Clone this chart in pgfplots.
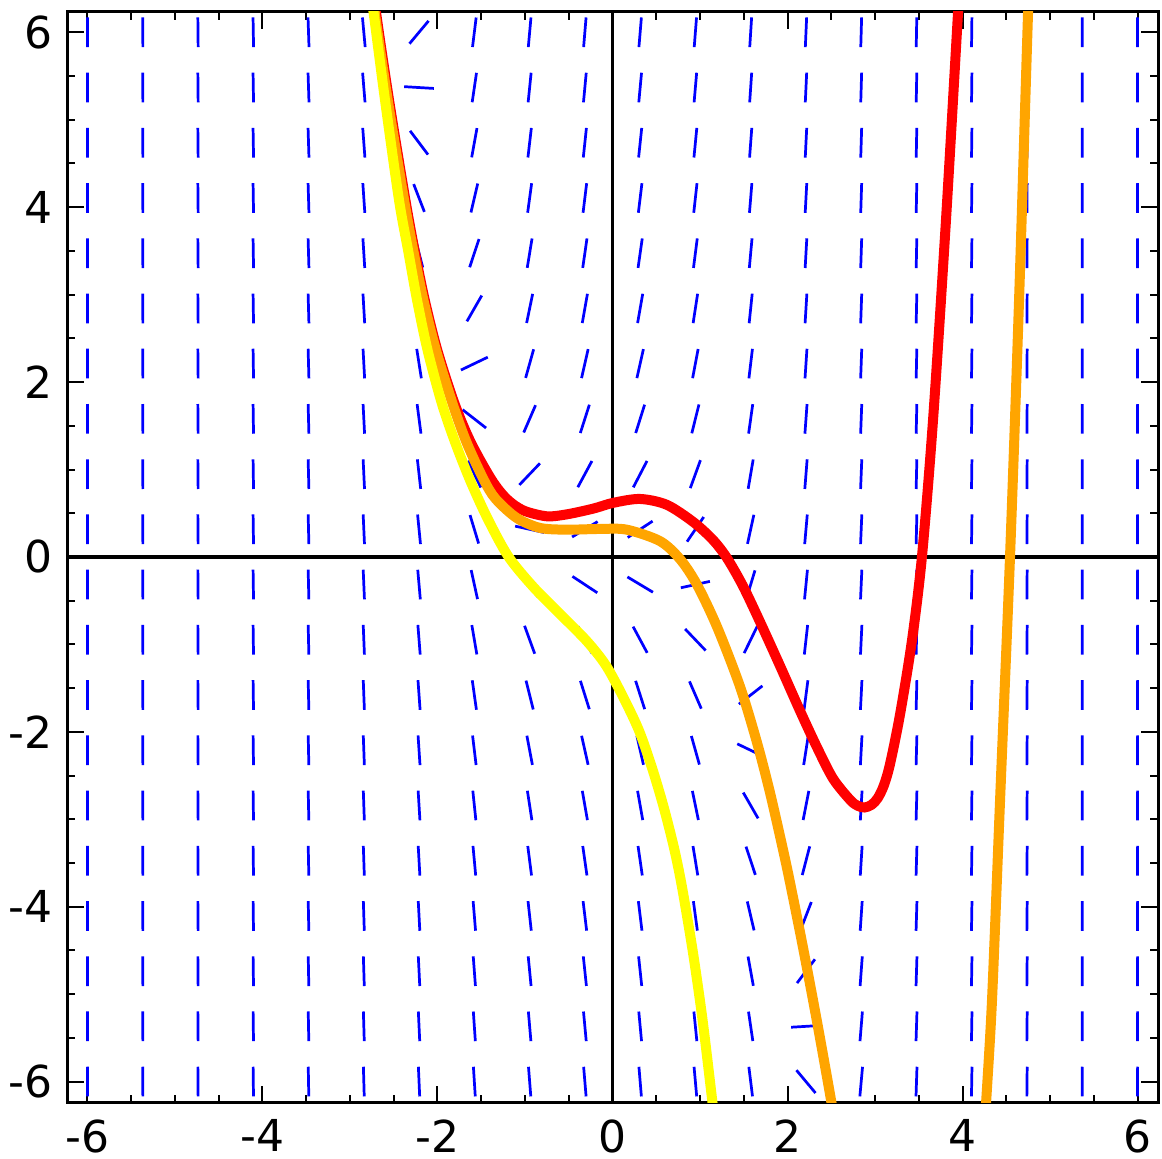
\documentclass[border=0pt]{standalone}
\usepackage{fontspec}
\setmainfont{DejaVu Sans}
\usepackage{pgfplots}
\pgfplotsset{compat=1.18}
\usepackage{pgfplotstable}
\definecolor{sblue}{RGB}{0,0,255}
\definecolor{sred}{RGB}{255,0,0}
\definecolor{sorange}{RGB}{255,165,0}
\definecolor{syellow}{RGB}{255,255,0}

\pgfplotstableread{
x y s
-6 -6 -228
-6 -5.368 -226.74
-6 -4.737 -225.47
-6 -4.105 -224.21
-6 -3.474 -222.95
-6 -2.842 -221.68
-6 -2.211 -220.42
-6 -1.579 -219.16
-6 -0.947 -217.89
-6 -0.316 -216.63
-6 0.316 -215.37
-6 0.947 -214.11
-6 1.579 -212.84
-6 2.211 -211.58
-6 2.842 -210.32
-6 3.474 -209.05
-6 4.105 -207.79
-6 4.737 -206.53
-6 5.368 -205.26
-6 6 -204
-5.368 -6 -166.72
-5.368 -5.368 -165.46
-5.368 -4.737 -164.19
-5.368 -4.105 -162.93
-5.368 -3.474 -161.67
-5.368 -2.842 -160.40
-5.368 -2.211 -159.14
-5.368 -1.579 -157.88
-5.368 -0.947 -156.61
-5.368 -0.316 -155.35
-5.368 0.316 -154.09
-5.368 0.947 -152.82
-5.368 1.579 -151.56
-5.368 2.211 -150.30
-5.368 2.842 -149.04
-5.368 3.474 -147.77
-5.368 4.105 -146.51
-5.368 4.737 -145.25
-5.368 5.368 -143.98
-5.368 6 -142.72
-4.737 -6 -118.28
-4.737 -5.368 -117.02
-4.737 -4.737 -115.75
-4.737 -4.105 -114.49
-4.737 -3.474 -113.23
-4.737 -2.842 -111.96
-4.737 -2.211 -110.70
-4.737 -1.579 -109.44
-4.737 -0.947 -108.18
-4.737 -0.316 -106.91
-4.737 0.316 -105.65
-4.737 0.947 -104.39
-4.737 1.579 -103.12
-4.737 2.211 -101.86
-4.737 2.842 -100.60
-4.737 3.474 -99.33
-4.737 4.105 -98.07
-4.737 4.737 -96.81
-4.737 5.368 -95.54
-4.737 6 -94.28
-4.105 -6 -81.19
-4.105 -5.368 -79.93
-4.105 -4.737 -78.66
-4.105 -4.105 -77.40
-4.105 -3.474 -76.14
-4.105 -2.842 -74.87
-4.105 -2.211 -73.61
-4.105 -1.579 -72.35
-4.105 -0.947 -71.09
-4.105 -0.316 -69.82
-4.105 0.316 -68.56
-4.105 0.947 -67.30
-4.105 1.579 -66.03
-4.105 2.211 -64.77
-4.105 2.842 -63.51
-4.105 3.474 -62.24
-4.105 4.105 -60.98
-4.105 4.737 -59.72
-4.105 5.368 -58.45
-4.105 6 -57.19
-3.474 -6 -53.92
-3.474 -5.368 -52.66
-3.474 -4.737 -51.39
-3.474 -4.105 -50.13
-3.474 -3.474 -48.87
-3.474 -2.842 -47.60
-3.474 -2.211 -46.34
-3.474 -1.579 -45.08
-3.474 -0.947 -43.82
-3.474 -0.316 -42.55
-3.474 0.316 -41.29
-3.474 0.947 -40.03
-3.474 1.579 -38.76
-3.474 2.211 -37.50
-3.474 2.842 -36.24
-3.474 3.474 -34.97
-3.474 4.105 -33.71
-3.474 4.737 -32.45
-3.474 5.368 -31.18
-3.474 6 -29.92
-2.842 -6 -34.96
-2.842 -5.368 -33.70
-2.842 -4.737 -32.43
-2.842 -4.105 -31.17
-2.842 -3.474 -29.91
-2.842 -2.842 -28.64
-2.842 -2.211 -27.38
-2.842 -1.579 -26.12
-2.842 -0.947 -24.86
-2.842 -0.316 -23.59
-2.842 0.316 -22.33
-2.842 0.947 -21.07
-2.842 1.579 -19.80
-2.842 2.211 -18.54
-2.842 2.842 -17.28
-2.842 3.474 -16.01
-2.842 4.105 -14.75
-2.842 4.737 -13.49
-2.842 5.368 -12.22
-2.842 6 -10.96
-2.211 -6 -22.80
-2.211 -5.368 -21.54
-2.211 -4.737 -20.27
-2.211 -4.105 -19.01
-2.211 -3.474 -17.75
-2.211 -2.842 -16.48
-2.211 -2.211 -15.22
-2.211 -1.579 -13.96
-2.211 -0.947 -12.70
-2.211 -0.316 -11.43
-2.211 0.316 -10.17
-2.211 0.947 -8.91
-2.211 1.579 -7.64
-2.211 2.211 -6.38
-2.211 2.842 -5.12
-2.211 3.474 -3.85
-2.211 4.105 -2.59
-2.211 4.737 -1.33
-2.211 5.368 -0.06
-2.211 6 1.20
-1.579 -6 -15.94
-1.579 -5.368 -14.68
-1.579 -4.737 -13.41
-1.579 -4.105 -12.15
-1.579 -3.474 -10.89
-1.579 -2.842 -9.62
-1.579 -2.211 -8.36
-1.579 -1.579 -7.10
-1.579 -0.947 -5.83
-1.579 -0.316 -4.57
-1.579 0.316 -3.31
-1.579 0.947 -2.05
-1.579 1.579 -0.78
-1.579 2.211 0.48
-1.579 2.842 1.74
-1.579 3.474 3.01
-1.579 4.105 4.27
-1.579 4.737 5.53
-1.579 5.368 6.80
-1.579 6 8.06
-0.947 -6 -12.85
-0.947 -5.368 -11.59
-0.947 -4.737 -10.32
-0.947 -4.105 -9.06
-0.947 -3.474 -7.80
-0.947 -2.842 -6.53
-0.947 -2.211 -5.27
-0.947 -1.579 -4.01
-0.947 -0.947 -2.75
-0.947 -0.316 -1.48
-0.947 0.316 -0.22
-0.947 0.947 1.05
-0.947 1.579 2.31
-0.947 2.211 3.57
-0.947 2.842 4.83
-0.947 3.474 6.10
-0.947 4.105 7.36
-0.947 4.737 8.62
-0.947 5.368 9.89
-0.947 6 11.15
-0.316 -6 -12.03
-0.316 -5.368 -10.77
-0.316 -4.737 -9.50
-0.316 -4.105 -8.24
-0.316 -3.474 -6.98
-0.316 -2.842 -5.71
-0.316 -2.211 -4.45
-0.316 -1.579 -3.19
-0.316 -0.947 -1.93
-0.316 -0.316 -0.66
-0.316 0.316 0.60
-0.316 0.947 1.86
-0.316 1.579 3.13
-0.316 2.211 4.39
-0.316 2.842 5.65
-0.316 3.474 6.92
-0.316 4.105 8.18
-0.316 4.737 9.44
-0.316 5.368 10.71
-0.316 6 11.97
0.316 -6 -11.97
0.316 -5.368 -10.71
0.316 -4.737 -9.44
0.316 -4.105 -8.18
0.316 -3.474 -6.92
0.316 -2.842 -5.65
0.316 -2.211 -4.39
0.316 -1.579 -3.13
0.316 -0.947 -1.86
0.316 -0.316 -0.60
0.316 0.316 0.66
0.316 0.947 1.93
0.316 1.579 3.19
0.316 2.211 4.45
0.316 2.842 5.71
0.316 3.474 6.98
0.316 4.105 8.24
0.316 4.737 9.50
0.316 5.368 10.77
0.316 6 12.03
0.947 -6 -11.15
0.947 -5.368 -9.89
0.947 -4.737 -8.62
0.947 -4.105 -7.36
0.947 -3.474 -6.10
0.947 -2.842 -4.83
0.947 -2.211 -3.57
0.947 -1.579 -2.31
0.947 -0.947 -1.05
0.947 -0.316 0.22
0.947 0.316 1.48
0.947 0.947 2.75
0.947 1.579 4.01
0.947 2.211 5.27
0.947 2.842 6.53
0.947 3.474 7.80
0.947 4.105 9.06
0.947 4.737 10.32
0.947 5.368 11.59
0.947 6 12.85
1.579 -6 -8.06
1.579 -5.368 -6.80
1.579 -4.737 -5.53
1.579 -4.105 -4.27
1.579 -3.474 -3.01
1.579 -2.842 -1.74
1.579 -2.211 -0.48
1.579 -1.579 0.78
1.579 -0.947 2.05
1.579 -0.316 3.31
1.579 0.316 4.57
1.579 0.947 5.83
1.579 1.579 7.10
1.579 2.211 8.36
1.579 2.842 9.62
1.579 3.474 10.89
1.579 4.105 12.15
1.579 4.737 13.41
1.579 5.368 14.68
1.579 6 15.94
2.211 -6 -1.20
2.211 -5.368 0.06
2.211 -4.737 1.33
2.211 -4.105 2.59
2.211 -3.474 3.85
2.211 -2.842 5.12
2.211 -2.211 6.38
2.211 -1.579 7.64
2.211 -0.947 8.91
2.211 -0.316 10.17
2.211 0.316 11.43
2.211 0.947 12.70
2.211 1.579 13.96
2.211 2.211 15.22
2.211 2.842 16.48
2.211 3.474 17.75
2.211 4.105 19.01
2.211 4.737 20.27
2.211 5.368 21.54
2.211 6 22.80
2.842 -6 10.96
2.842 -5.368 12.22
2.842 -4.737 13.49
2.842 -4.105 14.75
2.842 -3.474 16.01
2.842 -2.842 17.28
2.842 -2.211 18.54
2.842 -1.579 19.80
2.842 -0.947 21.07
2.842 -0.316 22.33
2.842 0.316 23.59
2.842 0.947 24.86
2.842 1.579 26.12
2.842 2.211 27.38
2.842 2.842 28.64
2.842 3.474 29.91
2.842 4.105 31.17
2.842 4.737 32.43
2.842 5.368 33.70
2.842 6 34.96
3.474 -6 29.92
3.474 -5.368 31.18
3.474 -4.737 32.45
3.474 -4.105 33.71
3.474 -3.474 34.97
3.474 -2.842 36.24
3.474 -2.211 37.50
3.474 -1.579 38.76
3.474 -0.947 40.03
3.474 -0.316 41.29
3.474 0.316 42.55
3.474 0.947 43.82
3.474 1.579 45.08
3.474 2.211 46.34
3.474 2.842 47.60
3.474 3.474 48.87
3.474 4.105 50.13
3.474 4.737 51.39
3.474 5.368 52.66
3.474 6 53.92
4.105 -6 57.19
4.105 -5.368 58.45
4.105 -4.737 59.72
4.105 -4.105 60.98
4.105 -3.474 62.24
4.105 -2.842 63.51
4.105 -2.211 64.77
4.105 -1.579 66.03
4.105 -0.947 67.30
4.105 -0.316 68.56
4.105 0.316 69.82
4.105 0.947 71.09
4.105 1.579 72.35
4.105 2.211 73.61
4.105 2.842 74.87
4.105 3.474 76.14
4.105 4.105 77.40
4.105 4.737 78.66
4.105 5.368 79.93
4.105 6 81.19
4.737 -6 94.28
4.737 -5.368 95.54
4.737 -4.737 96.81
4.737 -4.105 98.07
4.737 -3.474 99.33
4.737 -2.842 100.60
4.737 -2.211 101.86
4.737 -1.579 103.12
4.737 -0.947 104.39
4.737 -0.316 105.65
4.737 0.316 106.91
4.737 0.947 108.18
4.737 1.579 109.44
4.737 2.211 110.70
4.737 2.842 111.96
4.737 3.474 113.23
4.737 4.105 114.49
4.737 4.737 115.75
4.737 5.368 117.02
4.737 6 118.28
5.368 -6 142.72
5.368 -5.368 143.98
5.368 -4.737 145.25
5.368 -4.105 146.51
5.368 -3.474 147.77
5.368 -2.842 149.04
5.368 -2.211 150.30
5.368 -1.579 151.56
5.368 -0.947 152.82
5.368 -0.316 154.09
5.368 0.316 155.35
5.368 0.947 156.61
5.368 1.579 157.88
5.368 2.211 159.14
5.368 2.842 160.40
5.368 3.474 161.67
5.368 4.105 162.93
5.368 4.737 164.19
5.368 5.368 165.46
5.368 6 166.72
6 -6 204
6 -5.368 205.26
6 -4.737 206.53
6 -4.105 207.79
6 -3.474 209.05
6 -2.842 210.32
6 -2.211 211.58
6 -1.579 212.84
6 -0.947 214.11
6 -0.316 215.37
6 0.316 216.63
6 0.947 217.89
6 1.579 219.16
6 2.211 220.42
6 2.842 221.68
6 3.474 222.95
6 4.105 224.21
6 4.737 225.47
6 5.368 226.74
6 6 228
}\fieldtable

\begin{document}
\begin{tikzpicture}
\begin{axis}[name=ax, scale only axis, width=272.75pt, height=272.75pt,
  xmin=-6.234, xmax=6.234, ymin=-6.244, ymax=6.232,
  axis line style={black, line width=0.75pt},
  xtick={-6,-4,-2,0,2,4,6}, ytick={-6,-4,-2,0,2,4,6},
  xticklabels={-6,-4,-2,0,2,4,6}, yticklabels={-6,-4,-2,0,2,4,6},
  minor x tick num=3, minor y tick num=3,
  major tick length=4.25pt, minor tick length=2pt,
  every tick/.style={black, line width=0.5pt},
  tick label style={font=\fontsize{11}{13}\selectfont, text=black},
  xticklabel style={yshift=-0.6pt},
  extra x ticks={0}, extra y ticks={0}, extra x tick labels={}, extra y tick labels={},
  extra tick style={grid=major, major grid style={black, line width=0.8pt}, major tick length=0pt, minor tick length=0pt},
  clip=true]

\addplot[sblue, line width=0.68pt, mark=none,
  quiver={u={0.34*cos(atan(\thisrow{s}))}, v={0.34*sin(atan(\thisrow{s}))}}]
  table[x expr={\thisrow{x}-0.17*cos(atan(\thisrow{s}))}, y expr={\thisrow{y}-0.17*sin(atan(\thisrow{s}))}] {\fieldtable};

\addplot[sred, line width=2.5pt, smooth, tension=0.5, mark=none] coordinates {
(-2.72,6.45) (-2.703,6.232) (-2.554,5.226) (-2.367,4.082) (-2.263,3.511) (-2.146,2.939)
(-2.003,2.367) (-1.808,1.761) (-1.622,1.315) (-1.380,0.880) (-1.208,0.663)
(-1.019,0.532) (-0.752,0.465) (-0.523,0.487) (-0.219,0.553) (0.009,0.619)
(0.314,0.663) (0.619,0.597) (0.923,0.400) (1.149,0.194) (1.309,-0.014)
(1.491,-0.333) (1.686,-0.743) (1.914,-1.245) (2.143,-1.760) (2.337,-2.177)
(2.520,-2.534) (2.714,-2.777) (2.800,-2.845) (2.880,-2.865) (2.960,-2.835)
(3.030,-2.760) (3.100,-2.615) (3.171,-2.370) (3.286,-1.800) (3.423,-0.949)
(3.537,0.011) (3.663,1.567) (3.811,3.854) (3.949,6.232) (3.962,6.45)};

\addplot[sorange, line width=2.5pt, smooth, tension=0.5, mark=none] coordinates {
(-2.735,6.45) (-2.718,6.232) (-2.569,5.226) (-2.382,4.082) (-2.278,3.511) (-2.161,2.939)
(-2.018,2.367) (-1.830,1.761) (-1.670,1.315) (-1.470,0.880) (-1.335,0.663)
(-1.095,0.446) (-0.829,0.332) (-0.523,0.312) (-0.143,0.320) (0.162,0.312)
(0.543,0.181) (0.771,-0.024) (0.962,-0.311) (1.194,-0.798) (1.457,-1.482)
(1.651,-2.122) (1.800,-2.696) (1.949,-3.350) (2.029,-3.726) (2.177,-4.466)
(2.337,-5.314) (2.497,-6.210) (2.530,-6.44)};

\addplot[sorange, line width=2.5pt, smooth, tension=0.5, mark=none] coordinates {
(4.257,-6.44) (4.269,-6.244) (4.337,-5.066) (4.429,-2.779) (4.543,0.011)
(4.646,2.939) (4.749,6.232) (4.760,6.45)};

\addplot[syellow, line width=2.5pt, smooth, tension=0.5, mark=none] coordinates {
(-2.76,6.43) (-2.731,6.232) (-2.600,5.226) (-2.440,4.082) (-2.337,3.511) (-2.234,2.939)
(-2.114,2.367) (-1.952,1.761) (-1.800,1.315) (-1.629,0.880) (-1.431,0.446)
(-1.191,0.006) (-0.905,-0.343) (-0.600,-0.652) (-0.295,-0.961) (-0.086,-1.224)
(0.086,-1.532) (0.295,-1.967) (0.448,-2.401) (0.581,-2.847) (0.703,-3.328)
(0.794,-3.774) (0.920,-4.528) (1.029,-5.294) (1.143,-6.244) (1.166,-6.438)};
\end{axis}
\pgfresetboundingbox
\path[use as bounding box] ([xshift=-16.75pt,yshift=-14pt]ax.south west) rectangle ([xshift=1pt,yshift=3pt]ax.north east);
\end{tikzpicture}
\end{document}
